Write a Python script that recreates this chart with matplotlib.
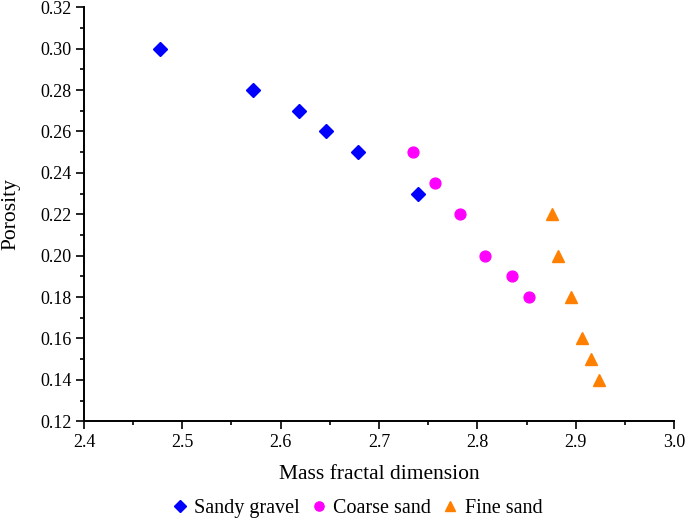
import matplotlib
matplotlib.use("Agg")
import matplotlib.pyplot as plt
from matplotlib.ticker import MultipleLocator

plt.rcParams['font.family'] = ['Liberation Serif', 'DejaVu Serif']

sandy_x = [2.477, 2.572, 2.619, 2.646, 2.679, 2.740]
sandy_y = [0.30, 0.28, 0.27, 0.26, 0.25, 0.23]
coarse_x = [2.735, 2.757, 2.782, 2.808, 2.835, 2.853]
coarse_y = [0.25, 0.235, 0.22, 0.20, 0.19, 0.18]
fine_x = [2.876, 2.8825, 2.895, 2.9065, 2.916, 2.9235]
fine_y = [0.22, 0.20, 0.18, 0.16, 0.15, 0.14]

fig = plt.figure(figsize=(6.85, 5.2), dpi=100)
ax = fig.add_axes([0.1226, 0.19, 0.984 - 0.1226, 0.986 - 0.19])

ax.plot(sandy_x, sandy_y, linestyle='none', marker='D', color='#0000FF', markersize=6.8, label='Sandy gravel')
ax.plot(coarse_x, coarse_y, linestyle='none', marker='o', color='#FF00FF', markersize=7.8, label='Coarse sand')
ax.plot(fine_x, fine_y, linestyle='none', marker='^', color='#FF8000', markersize=9, label='Fine sand')

ax.set_xlim(2.4, 3.0)
ax.set_ylim(0.12, 0.32)
ax.xaxis.set_major_locator(MultipleLocator(0.1))
ax.xaxis.set_minor_locator(MultipleLocator(0.05))
ax.yaxis.set_major_locator(MultipleLocator(0.02))
ax.yaxis.set_minor_locator(MultipleLocator(0.01))
ax.xaxis.set_major_formatter(matplotlib.ticker.FormatStrFormatter('%.1f'))
ax.yaxis.set_major_formatter(matplotlib.ticker.FormatStrFormatter('%.2f'))

for s in ['top', 'right']:
    ax.spines[s].set_visible(False)
for s in ['left', 'bottom']:
    ax.spines[s].set_linewidth(1.4)

ax.tick_params(which='major', direction='out', length=5.5, width=1.2, labelsize=13)
ax.tick_params(which='minor', direction='out', length=3, width=1.2)

ax.set_xlabel('Mass fractal dimension', fontsize=15.5, labelpad=10)
ax.set_ylabel('Porosity', fontsize=15.5, labelpad=14)

fig.legend(loc='lower center', bbox_to_anchor=(0.52, -0.031), ncol=3, frameon=False,
           fontsize=14.5, handletextpad=0.2, columnspacing=0.45, handlelength=1.0, markerscale=0.85)

fig.savefig('out.png', dpi=100)
